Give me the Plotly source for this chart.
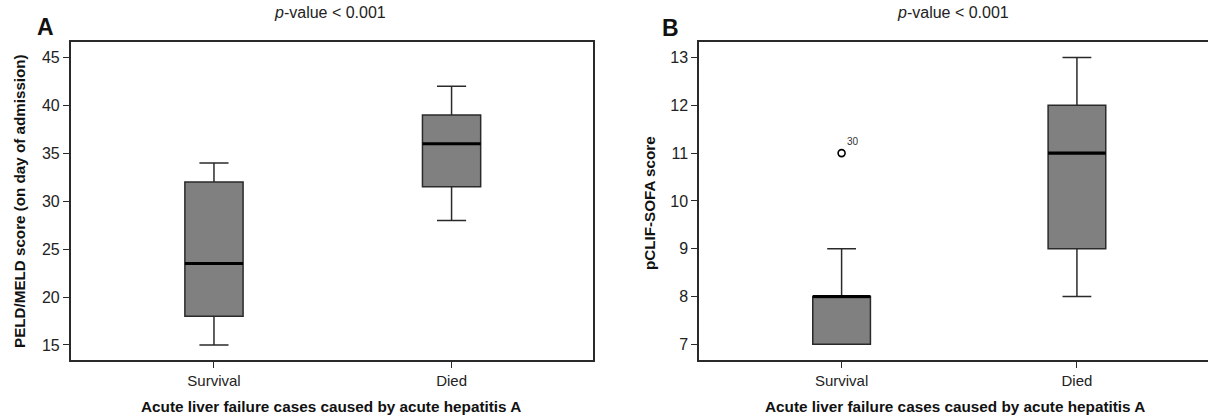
import plotly.graph_objects as go

# ---------------- data ----------------
categories = ["Survival", "Died"]

# Panel A: PELD/MELD score
a_lowerfence = [15, 28]
a_q1 = [18, 31.5]
a_median = [23.5, 36]
a_q3 = [32, 39]
a_upperfence = [34, 42]

# Panel B: pCLIF-SOFA score
b_lowerfence = [7, 8]
b_q1 = [7, 9]
b_median = [8, 11]
b_q3 = [8, 12]
b_upperfence = [9, 13]
b_outlier_cat = [0]
b_outlier_val = [11]
b_outlier_lab = ["30"]

a_ticks = [15, 20, 25, 30, 35, 40, 45]
b_ticks = [7, 8, 9, 10, 11, 12, 13]

FONT = "Liberation Sans, Arial, sans-serif"
TXT = "#222222"
BOXW = 0.245
W, H = 1208, 416

fig = go.Figure()

def add_panel(xa, ya, lf, q1, med, q3, uf):
    xs = list(range(len(categories)))
    fig.add_trace(go.Box(
        x=xs, q1=q1, median=med, q3=q3, lowerfence=lf, upperfence=uf,
        width=BOXW, whiskerwidth=0.5, boxpoints=False,
        fillcolor="#808080", line=dict(color="#2a2a2a", width=1.5),
        xaxis=xa, yaxis=ya, showlegend=False, hoverinfo="skip"))
    for i, m in zip(xs, med):
        fig.add_trace(go.Scatter(
            x=[i - BOXW / 2, i + BOXW / 2], y=[m, m], mode="lines",
            line=dict(color="#000000", width=3.2),
            xaxis=xa, yaxis=ya, showlegend=False, hoverinfo="skip"))

add_panel("x", "y", a_lowerfence, a_q1, a_median, a_q3, a_upperfence)
add_panel("x2", "y2", b_lowerfence, b_q1, b_median, b_q3, b_upperfence)

fig.add_trace(go.Scatter(
    x=b_outlier_cat, y=b_outlier_val, mode="markers+text",
    marker=dict(symbol="circle-open", size=7, color="#000000", line=dict(width=1.6)),
    text=b_outlier_lab, textposition="top right",
    textfont=dict(family=FONT, size=10, color="#333333"),
    xaxis="x2", yaxis="y2", showlegend=False, hoverinfo="skip"))

def px(x):
    return x / W

def py(y):
    return 1 - y / H

ydom = [py(360.3), py(41.5)]
line_common = dict(showline=True, linecolor="#2a2a2a", linewidth=1.5,
                   showgrid=False, zeroline=False, ticks="outside",
                   tickcolor="#2a2a2a", ticklen=6, tickwidth=1.3)
xfont = dict(family=FONT, size=15, color=TXT)
yfont = dict(family=FONT, size=16, color=TXT)

fig.update_layout(
    width=W, height=H, margin=dict(l=0, r=0, t=0, b=0),
    paper_bgcolor="white", plot_bgcolor="white",
    xaxis=dict(domain=[px(70.7), px(592.7)], range=[-0.603, 1.594],
               tickvals=[0, 1], ticktext=categories, mirror=True,
               anchor="y", tickfont=xfont, **line_common),
    yaxis=dict(domain=ydom, range=[13.4, 46.67], tickvals=a_ticks,
               mirror=True, anchor="x", tickfont=yfont, **line_common),
    xaxis2=dict(domain=[px(699), 1.0], range=[-0.606, 1.557],
                tickvals=[0, 1], ticktext=categories, mirror=True,
                anchor="y2", tickfont=xfont, **line_common),
    yaxis2=dict(domain=ydom, range=[6.665, 13.335], tickvals=b_ticks,
                mirror=False, anchor="x2", tickfont=yfont, **line_common),
)

def note(text, x, y, size, angle=0, color=TXT):
    return dict(text=text, x=px(x), y=py(y), xref="paper", yref="paper",
                xanchor="center", yanchor="middle", showarrow=False,
                textangle=angle, font=dict(family=FONT, size=size, color=color))

ann = [
    note("<b>A</b>", 45, 27, 23, color="#111111"),
    note("<b>B</b>", 670, 28, 23, color="#111111"),
    note("<i>p</i>-value &lt; 0.001", 330, 12, 16),
    note("<i>p</i>-value &lt; 0.001", 953, 12, 16),
    note("<b>Acute liver failure cases caused by acute hepatitis A</b>", 331, 406, 15.3, color="#111111"),
    note("<b>Acute liver failure cases caused by acute hepatitis A</b>", 955, 406, 15.3, color="#111111"),
    note("<b>PELD/MELD score (on day of admission)</b>", 20, 201, 15.2, angle=-90, color="#111111"),
    note("<b>pCLIF-SOFA score</b>", 650, 203, 15.2, angle=-90, color="#111111"),
]
fig.update_layout(annotations=ann)

fig.write_html("out.html")
